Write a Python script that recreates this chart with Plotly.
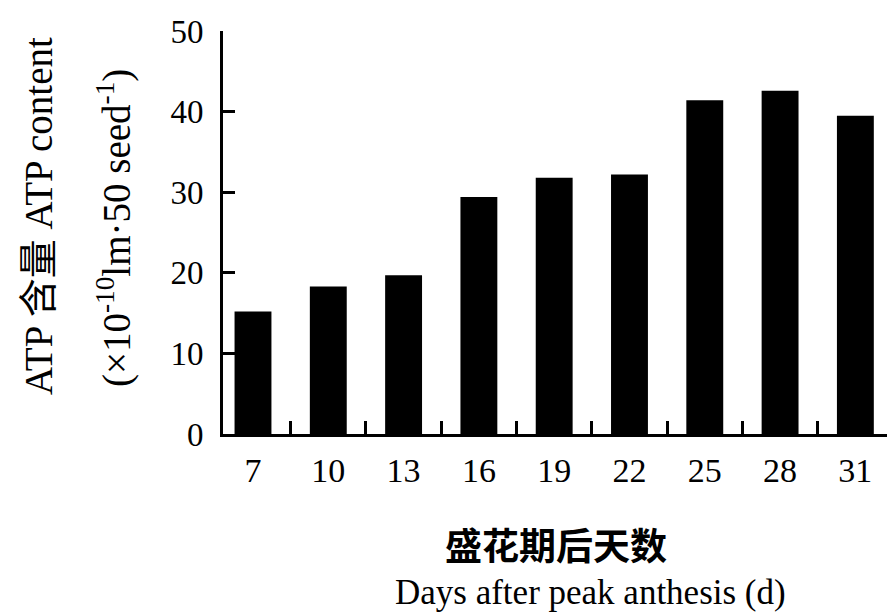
import plotly.graph_objects as go

# ATP content of seeds sampled every 3 days after peak anthesis
days = [7, 10, 13, 16, 19, 22, 25, 28, 31]
atp_content = [15.2, 18.3, 19.7, 29.4, 31.8, 32.2, 41.4, 42.6, 39.5]
y_ticks = [0, 10, 20, 30, 40, 50]

W, H = 887, 614
L, R, T, B = 223, 0, 31, 180
plot_w = W - L - R
plot_h = H - T - B

serif = "Liberation Serif, Times New Roman, serif"
cjk = "Noto Sans CJK SC"

fig = go.Figure(
    go.Bar(
        x=days,
        y=atp_content,
        marker=dict(color="black", line=dict(width=0)),
        width=1.47,
    )
)

fig.update_layout(
    width=W,
    height=H,
    margin=dict(l=L, r=R, t=T, b=B),
    plot_bgcolor="white",
    paper_bgcolor="white",
    showlegend=False,
    font=dict(family=serif, color="black"),
)

fig.update_xaxes(
    range=[5.805, 32.26],
    tickmode="array",
    tickvals=days,
    ticktext=[str(d) for d in days],
    ticks="",
    ticklabelstandoff=4,
    tickfont=dict(family=serif, size=34, color="black"),
    showline=True,
    linecolor="black",
    linewidth=3,
    showgrid=False,
    zeroline=False,
    minor=dict(
        tickmode="linear",
        tick0=8.5,
        dtick=3,
        ticks="inside",
        ticklen=13,
        tickwidth=2.5,
        tickcolor="black",
        showgrid=False,
    ),
)

fig.update_yaxes(
    range=[0, 50],
    tickmode="array",
    tickvals=y_ticks,
    ticks="inside",
    ticklen=12,
    tickwidth=3,
    tickcolor="black",
    ticklabelstandoff=10,
    tickfont=dict(family=serif, size=33, color="black"),
    showline=True,
    linecolor="black",
    linewidth=3,
    showgrid=False,
    zeroline=False,
)


def place(px, py):
    """Convert a pixel position on the page to paper coordinates."""
    return (px - L) / plot_w, (H - B - py) / plot_h


# Rotated two-line y-axis title
ax1, ay1 = place(38, 216)
ax2, ay2 = place(115, 228)
fig.add_annotation(
    x=ax1, y=ay1, xref="paper", yref="paper",
    text="ATP 含量 ATP content",
    textangle=-90, showarrow=False,
    xanchor="center", yanchor="middle",
    font=dict(family=f"{serif}, {cjk}", size=39, color="black"),
)
fig.add_annotation(
    x=ax2, y=ay2, xref="paper", yref="paper",
    text="(×10<sup>-10</sup>lm·50 seed<sup>-1</sup>)",
    textangle=-90, showarrow=False,
    xanchor="center", yanchor="middle",
    font=dict(family=serif, size=39, color="black"),
)

# Bilingual x-axis title
bx1, by1 = place(556, 544)
bx2, by2 = place(590, 614)
fig.add_annotation(
    x=bx1, y=by1, xref="paper", yref="paper",
    text="<b>盛花期后天数</b>",
    showarrow=False, xanchor="center", yanchor="middle",
    font=dict(family=cjk, size=37, color="black"),
)
fig.add_annotation(
    x=bx2, y=by2, xref="paper", yref="paper",
    text="Days after peak anthesis (d)",
    showarrow=False, xanchor="center", yanchor="bottom",
    font=dict(family=serif, size=35, color="black"),
)

fig.write_html("out.html")
